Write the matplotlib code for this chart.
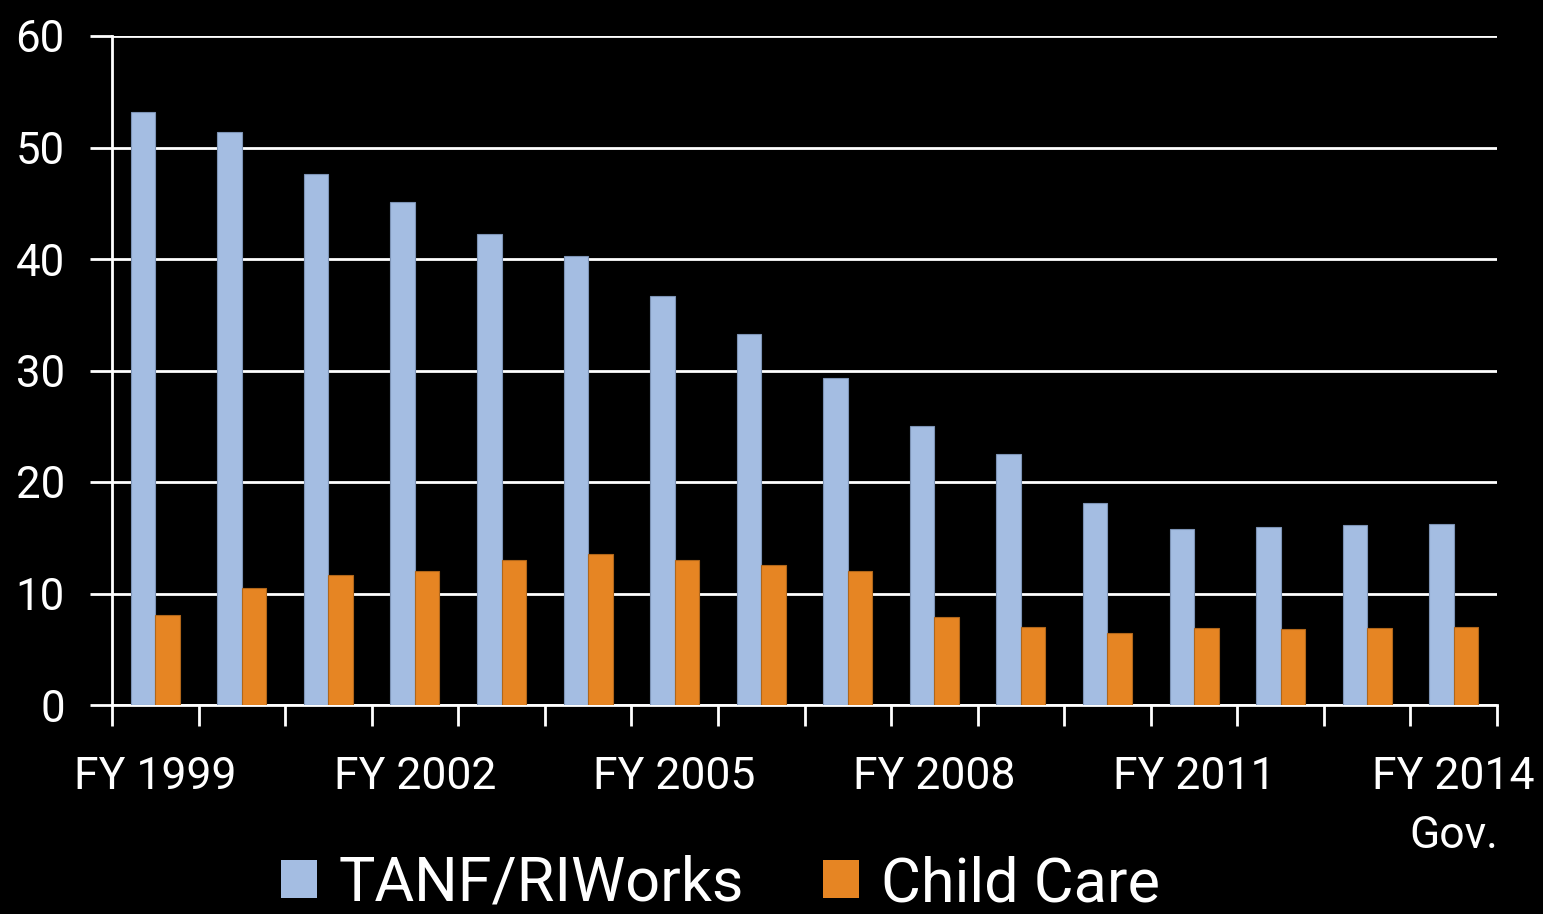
import matplotlib
matplotlib.use("Agg")
import matplotlib.pyplot as plt
import numpy as np
from matplotlib.patches import Patch

categories = ["FY 1999", "FY 2000", "FY 2001", "FY 2002", "FY 2003", "FY 2004",
              "FY 2005", "FY 2006", "FY 2007", "FY 2008", "FY 2009", "FY 2010",
              "FY 2011", "FY 2012", "FY 2013", "FY 2014\nGov."]
tanf = [53.2, 51.4, 47.6, 45.1, 42.2, 40.3, 36.7, 33.3, 29.3, 25.0, 22.5, 18.1,
        15.8, 16.0, 16.1, 16.2]
child_care = [8.1, 10.5, 11.7, 12.0, 13.0, 13.5, 13.0, 12.6, 12.0, 7.9, 7.0, 6.5,
              6.9, 6.8, 6.9, 7.0]
series_names = ["TANF/RIWorks", "Child Care"]
yticks = [0, 10, 20, 30, 40, 50, 60]
label_every = 3

BLUE = "#A4BDE2"
ORANGE = "#E68523"
FONT = "Roboto"

plt.rcParams["font.family"] = [FONT, "DejaVu Sans"]

fig = plt.figure(figsize=(15.43, 9.14), dpi=100, facecolor="black")
ax = fig.add_axes([112/1543, 1-705/914, (1497-112)/1543, (705-36)/914])
ax.set_facecolor("black")

n = len(categories)
x = np.arange(n) + 0.5
w = 0.283
ax.bar(x - w/2, tanf, width=w, color=BLUE, edgecolor="#7D93B5", linewidth=0.8, zorder=3)
ax.bar(x + w/2, child_care, width=w, color=ORANGE, edgecolor="#B0661A", linewidth=0.8, zorder=3)

ax.set_xlim(0, n)
ax.set_ylim(0, 60)
ax.set_yticks(yticks)
ax.yaxis.grid(True, color="white", linewidth=2, zorder=1)
ax.tick_params(axis="y", colors="white", length=16, width=2, labelsize=31.5, pad=18)
for lab in ax.get_yticklabels():
    lab.set_color("white")

ax.set_xticks(np.arange(n + 1))
ax.set_xticklabels([])
ax.tick_params(axis="x", which="major", colors="white", length=15, width=2)
minor_pos = [x[i] for i in range(0, n, label_every)]
minor_lab = [categories[i] for i in range(0, n, label_every)]
ax.set_xticks(minor_pos, minor=True)
ax.set_xticklabels(minor_lab, minor=True, fontsize=32, color="white",
                   multialignment="center", linespacing=1.5)
ax.tick_params(axis="x", which="minor", length=0, pad=37)

for s in ["top", "right"]:
    ax.spines[s].set_visible(False)
for s in ["left", "bottom"]:
    ax.spines[s].set_color("white")
    ax.spines[s].set_linewidth(2)

handles = [Patch(facecolor=BLUE, edgecolor="none"), Patch(facecolor=ORANGE, edgecolor="none")]
leg = fig.legend(handles, series_names, loc="center", bbox_to_anchor=(0.467, 1-884/914),
                 ncol=2, frameon=False, fontsize=44, labelcolor="white",
                 handlelength=0.58, handleheight=0.58, handletextpad=0.36,
                 columnspacing=1.3, borderpad=0, borderaxespad=0)

fig.savefig("out.png", dpi=100, facecolor="black")
